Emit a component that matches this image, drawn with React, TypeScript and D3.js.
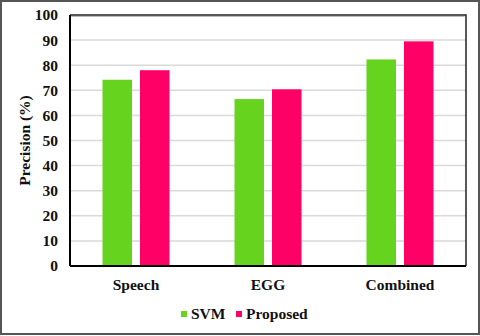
import React from "react";
import * as d3 from "d3";

const categories = ["Speech", "EGG", "Combined"];
const seriesNames = ["SVM", "Proposed"];
const svmValues = [74.2, 66.5, 82.3];
const proposedValues = [78.0, 70.4, 89.5];
const yTicks = [0, 10, 20, 30, 40, 50, 60, 70, 80, 90, 100];

const colors = ["#66d41e", "#ff0066"];
const W = 480;
const H = 336;
const margin = { top: 15, right: 14, bottom: 70, left: 70 };
const font = "'Liberation Serif', 'Times New Roman', serif";

export default function App() {
  const innerW = W - margin.left - margin.right;
  const innerH = H - margin.top - margin.bottom;

  const x = d3.scaleBand().domain(categories).range([0, innerW]).paddingInner(0).paddingOuter(0);
  const y = d3.scaleLinear().domain([0, 100]).range([innerH, 0]);

  const barW = 29.5;
  const gap = 8;
  const series = [svmValues, proposedValues];

  return (
    <svg width={W} height={H} style={{ position: "absolute", left: 0, top: 0, background: "#fff" }}>
      <rect x={1} y={1} width={W - 2} height={H - 3} fill="#fff" stroke="#555" strokeWidth={2} />
      <g transform={`translate(${margin.left},${margin.top})`}>
        {/* gridlines */}
        {yTicks.filter((t) => t > 0 && t < 100).map((t) => (
          <line key={t} x1={0} x2={innerW} y1={y(t)} y2={y(t)} stroke="#d9d9d9" strokeWidth={1.5} />
        ))}
        {/* bars */}
        {categories.map((c, i) => {
          const cx = x(c)! + x.bandwidth() / 2;
          return series.map((vals, s) => {
            const bx = s === 0 ? cx - gap / 2 - barW : cx + gap / 2;
            return (
              <rect
                key={c + s}
                x={bx}
                y={y(vals[i])}
                width={barW}
                height={innerH - y(vals[i])}
                fill={colors[s]}
              />
            );
          });
        })}
        {/* box top and right */}
        <path d={`M0,0H${innerW}V${innerH}`} fill="none" stroke="#222" strokeWidth={1.5} />
        <path d={`M1,1.5H${innerW - 1.5}`} fill="none" stroke="#bbb" strokeWidth={1} />
        {/* axes */}
        <line x1={0} x2={0} y1={0} y2={innerH} stroke="#000" strokeWidth={2} />
        <line x1={0} x2={innerW} y1={innerH} y2={innerH} stroke="#000" strokeWidth={2} />
        {yTicks.map((t) => (
          <text
            key={t}
            x={-12}
            y={y(t)}
            dy="0.35em"
            textAnchor="end"
            fontFamily={font}
            fontWeight="bold"
            fontSize={15.5}
            fill="#111"
          >
            {t}
          </text>
        ))}
        {categories.map((c) => (
          <text
            key={c}
            x={x(c)! + x.bandwidth() / 2}
            y={innerH + 19}
            dy="0.35em"
            textAnchor="middle"
            fontFamily={font}
            fontWeight="bold"
            fontSize={15.5}
            fill="#111"
          >
            {c}
          </text>
        ))}
        <text
          transform={`translate(-45,${innerH / 2}) rotate(-90)`}
          textAnchor="middle"
          dy="0.35em"
          fontFamily={font}
          fontWeight="bold"
          fontSize={15.5}
          fill="#111"
        >
          Precision (%)
        </text>
      </g>
      {/* legend */}
      <g transform="translate(181,314)">
        <rect x={0} y={-3} width={6} height={6} fill={colors[0]} />
        <text x={10} y={0} dy="0.35em" fontFamily={font} fontWeight="bold" fontSize={15.5} fill="#111">
          {seriesNames[0]}
        </text>
        <rect x={55} y={-3} width={6} height={6} fill={colors[1]} />
        <text x={65} y={0} dy="0.35em" fontFamily={font} fontWeight="bold" fontSize={15.5} fill="#111">
          {seriesNames[1]}
        </text>
      </g>
    </svg>
  );
}
